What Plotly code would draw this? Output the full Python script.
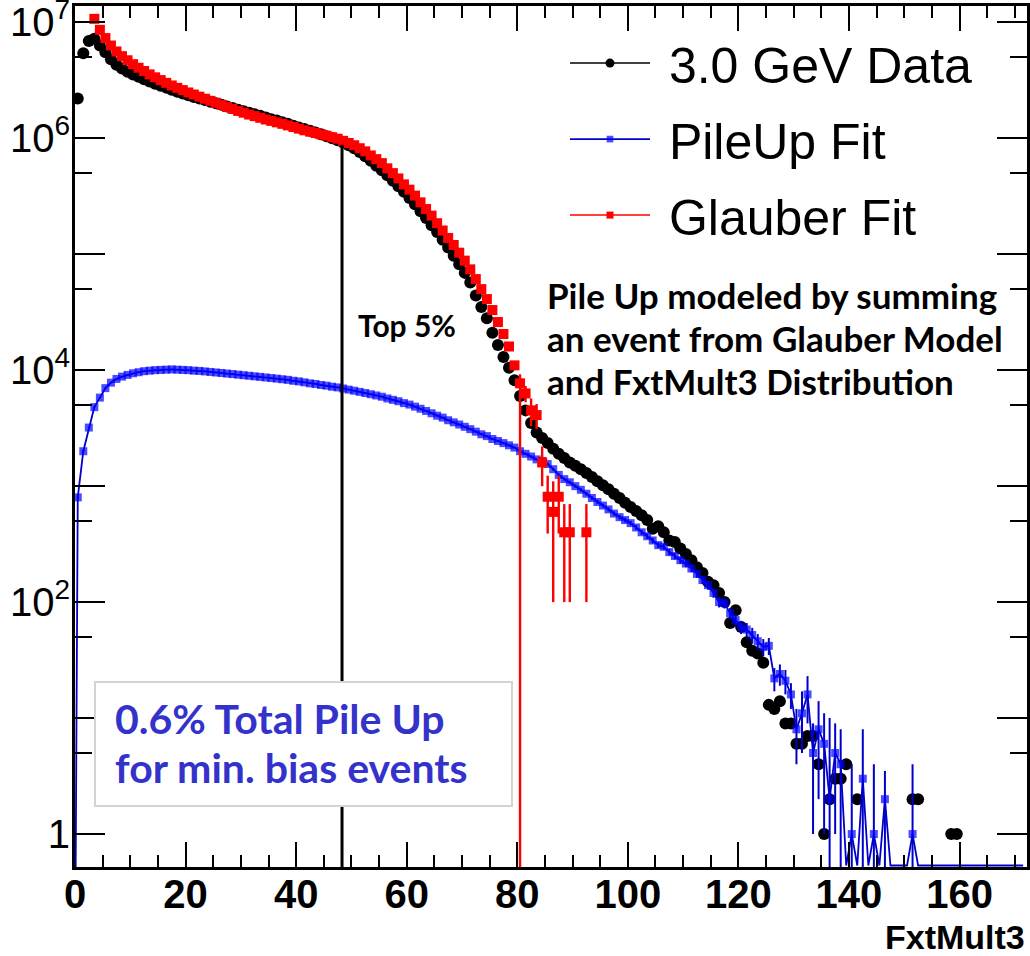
import numpy as np
import plotly.graph_objects as go

# ---------------- data ----------------
# bin index i -> FxtMult3 bin centre i+0.5
data_counts = [
    2.2e6, 5.4e6, 6.9e6, 7.2e6, 6.3e6, 5.5e6, 4.8e6, 4.3e6, 4.0e6, 3.75e6,
    3.55e6, 3.38e6, 3.22e6, 3.08e6, 2.95e6, 2.84e6, 2.73e6, 2.62e6, 2.52e6, 2.43e6,
    2.35e6, 2.27e6, 2.2e6, 2.13e6, 2.06e6, 2.0e6, 1.94e6, 1.88e6, 1.82e6, 1.76e6,
    1.71e6, 1.66e6, 1.61e6, 1.56e6, 1.51e6, 1.46e6, 1.42e6, 1.37e6, 1.33e6, 1.28e6,
    1.24e6, 1.2e6, 1.16e6, 1.12e6, 1.08e6, 1.04e6, 1.0e6, 9.6e5, 9.2e5, 8.7e5,
    8.2e5, 7.6e5, 7.0e5, 6.4e5, 5.8e5, 5.3e5, 4.8e5, 4.3e5, 3.85e5, 3.45e5,
    3.05e5, 2.7e5, 2.35e5, 2.05e5, 1.78e5, 1.55e5, 1.33e5, 1.14e5, 9.7e4, 8.2e4,
    6.9e4, 5.7e4, 4.4e4, 3.5e4, 2.8e4, 2.1e4, 1.65e4, 1.3e4, 1.05e4, 8.2e3,
    6.0e3, 4.5e3, 3.5e3, 2.9e3, 2.6e3, 2.35e3, 2.1e3, 1.9e3, 1.75e3, 1.6e3,
    1.5e3, 1.4e3, 1.3e3, 1.2e3, 1.1e3, 1.02e3, 940, 860, 790, 720,
    660, 610, 560, 510, 430, 450, 400, 340, 330, 290,
    260, 230, 200, 178, 150, 140, 120, 100, 66, 85,
    61, 45, 38, 36, 30, 13, 12, 14, 9, 9,
    6, 6, 7, 7, 4, 1, 2, 3, 3, 4,
    0, 2, 0, 0, 0, 0, 0, 0, 0, 0,
    0, 2, 2, 0, 0, 0, 0, 0, 1, 1,
]

pileup_fit = [
    800, 2000, 3200, 4800, 5800, 7000, 7800, 8400, 8800, 9100,
    9400, 9600, 9800, 9900, 10000, 10050, 10100, 10150, 10100, 10050,
    10000, 9900, 9850, 9750, 9650, 9550, 9450, 9350, 9250, 9150,
    9050, 8950, 8850, 8750, 8650, 8550, 8450, 8350, 8250, 8100,
    8000, 7850, 7700, 7600, 7450, 7350, 7200, 7100, 6950, 6800,
    6650, 6500, 6350, 6200, 6050, 5900, 5700, 5550, 5400, 5200,
    5050, 4850, 4650, 4450, 4250, 4050, 3900, 3700, 3550, 3400,
    3250, 3100, 2950, 2800, 2700, 2550, 2450, 2350, 2250, 2150,
    2000, 1900, 1800, 1700, 1650, 1550, 1400, 1250, 1150, 1080,
    1000, 930, 860, 790, 730, 680, 630, 580, 540, 510,
    480, 440, 400, 370, 340, 310, 300, 270, 250, 230,
    215, 195, 175, 155, 140, 120, 100, 98, 80, 70,
    61, 58, 52, 46, 41, 42, 22, 24, 21, 16,
    8, 11, 16, 5, 8, 6, 2, 5, 4, 0,
    1, 0, 3, 0, 1, 0, 2, 0, 0, 0,
    0, 1, 0, 0, 0, 0, 0, 0, 0, 0,
    0, 0, 0, 0, 0, 0, 0, 0, 0, 0,
    0, 0,
]

pileup_err = [
    30, 45, 55, 70, 75, 85, 90, 90, 95, 95,
    95, 100, 100, 100, 100, 100, 100, 100, 100, 100,
    100, 100, 100, 100, 100, 100, 95, 95, 95, 95,
    95, 95, 95, 95, 95, 95, 90, 90, 90, 90,
    90, 90, 90, 85, 85, 85, 85, 85, 85, 80,
    80, 80, 80, 80, 80, 75, 75, 75, 75, 70,
    70, 70, 70, 65, 65, 65, 60, 60, 60, 60,
    55, 55, 55, 55, 50, 50, 50, 50, 45, 45,
    45, 45, 40, 40, 40, 40, 38, 36, 34, 33,
    32, 31, 30, 29, 28, 27, 26, 25, 24, 23,
    22, 21, 20, 20, 19, 18, 18, 17, 16, 16,
    15, 14, 13, 12, 12, 11, 10, 10, 9, 9,
    8, 8, 8, 7, 7, 7, 5, 5, 5, 4,
    4, 6, 7, 4, 6, 5, 8, 4, 4, 0,
    3, 0, 5, 0, 3, 0, 1.5, 0, 0, 0,
    0, 3, 0, 0, 0, 0, 0, 0, 0, 0,
    0, 0, 0, 0, 0, 0, 0, 0, 0, 0,
    0, 0,
]

# Glauber fit, bins 0..92 (None = not drawn, 0 = empty bin)
glauber_fit = [
    None, None, None, 1.07e7, 8.6e6, 7.3e6, 6.3e6, 5.6e6, 5.1e6, 4.7e6,
    4.35e6, 4.05e6, 3.8e6, 3.55e6, 3.35e6, 3.17e6, 3.0e6, 2.85e6, 2.72e6, 2.6e6,
    2.48e6, 2.38e6, 2.28e6, 2.19e6, 2.1e6, 2.02e6, 1.94e6, 1.86e6, 1.79e6, 1.72e6,
    1.66e6, 1.6e6, 1.55e6, 1.5e6, 1.45e6, 1.41e6, 1.37e6, 1.33e6, 1.29e6, 1.25e6,
    1.21e6, 1.17e6, 1.14e6, 1.11e6, 1.08e6, 1.05e6, 1.02e6, 9.9e5, 9.5e5, 9.1e5,
    8.7e5, 8.2e5, 7.7e5, 7.1e5, 6.6e5, 6.1e5, 5.5e5, 5.0e5, 4.5e5, 4.0e5,
    3.6e5, 3.2e5, 2.8e5, 2.45e5, 2.15e5, 1.85e5, 1.6e5, 1.38e5, 1.2e5, 1.03e5,
    8.8e4, 7.4e4, 6.1e4, 5.0e4, 4.1e4, 3.3e4, 2.6e4, 2.05e4, 1.6e4, 1.1e4,
    7.7e3, 6.3e3, 4.5e3, 4.1e3, 1.6e3, 810, 600, 810, 400, 400,
    0, 0, 400,
]
glauber_err_up = [0] * 80 + [1500, 1000, 1200, 1000, 600, 420, 500, 420, 300, 300, 0, 0, 300]
glauber_err_down = [0] * 80 + [7.7e3, 1000, 1200, 1000, 600, 420, 500, 420, 300, 300, 0, 0, 300]

legend_names = ["3.0 GeV Data", "PileUp Fit", "Glauber Fit"]
x_ticks = [0, 20, 40, 60, 80, 100, 120, 140, 160]
y_tick_vals = [1, 10, 100, 1e3, 1e4, 1e5, 1e6, 1e7]
y_tick_text = ["1", "", "10<sup>2</sup>", "", "10<sup>4</sup>", "", "10<sup>6</sup>", "10<sup>7</sup>"]
y_minor_vals = [0.5, 5, 50, 500, 5e3, 5e4, 5e5, 5e6]

top5_cut_x = 48.3          # "Top 5%" cut position
top5_cut_height = 8.8e5    # where the cut line meets the data

X_RANGE = [0, 172.2]
Y_RANGE_LOG = [-0.284, 7.14]
FLOOR = 10 ** Y_RANGE_LOG[0] * 1.03   # ROOT draws empty bins at the frame bottom


def centres(n):
    return [i + 0.5 for i in range(n)]


fig = go.Figure()

# black data (markers only)
xd = centres(len(data_counts))
yd = [v if v > 0 else None for v in data_counts]
fig.add_trace(go.Scatter(
    x=xd, y=yd, mode="markers", showlegend=False, hoverinfo="skip",
    marker=dict(symbol="circle", size=12, color="black"),
))

# blue pile-up fit (line + markers + error bars)
xb = centres(len(pileup_fit))
yb = [v if v > 0 else FLOOR for v in pileup_fit]
sb = [8 if v > 0 else 0 for v in pileup_fit]
fig.add_trace(go.Scatter(
    x=[-0.2] + xb, y=[1e-3] + yb, mode="lines+markers", name="\u00a0" + legend_names[1],
    legendgroup="b", legendrank=2,
    line=dict(color="#0000cc", width=1.8),
    marker=dict(symbol="square", size=[0] + sb, color="#0000ff", line=dict(width=0)),
    error_y=dict(type="data", array=[0] + pileup_err, color="#0000cc", width=0, thickness=2),
))

# red Glauber fit (markers + error bars)
xr = centres(len(glauber_fit))
yr = [v if (v is not None and v > 0) else None for v in glauber_fit]
fig.add_trace(go.Scatter(
    x=xr, y=yr, mode="markers", showlegend=False, hoverinfo="skip",
    marker=dict(symbol="square", size=10, color="#ff0000", line=dict(width=0)),
    error_y=dict(type="data", symmetric=False, array=glauber_err_up,
                 arrayminus=glauber_err_down, color="#ff0000", width=0, thickness=2.4),
))

# legend entries (ROOT "LP" style)
fig.add_trace(go.Scatter(x=[None], y=[None], mode="lines+markers", name="\u00a0" + legend_names[0],
                         legendgroup="a", legendrank=1,
                         line=dict(color="black", width=1.5),
                         marker=dict(symbol="circle", size=9, color="black")))
fig.add_trace(go.Scatter(x=[None], y=[None], mode="lines+markers", name="\u00a0" + legend_names[2],
                         legendgroup="c", legendrank=3,
                         line=dict(color="#ff0000", width=1.5),
                         marker=dict(symbol="square", size=7, color="#ff0000")))

# "Top 5%" cut line
fig.add_trace(go.Scatter(x=[top5_cut_x, top5_cut_x], y=[1e-3, top5_cut_height],
                         mode="lines", showlegend=False, hoverinfo="skip",
                         line=dict(color="black", width=3)))

axis_common = dict(showline=True, linecolor="black", linewidth=3, mirror="ticks",
                   ticks="inside", tickcolor="black", showgrid=False, zeroline=False,
                   automargin=False)

fig.update_xaxes(range=X_RANGE, tickvals=x_ticks, ticklen=25, tickwidth=2,
                 minor=dict(dtick=5, tick0=0, ticklen=12, tickwidth=2, ticks="inside", tickcolor="black"),
                 tickfont=dict(family="Liberation Sans", size=40, color="black", weight="bold"),
                 ticklabelstandoff=-10, ticklabeloverflow="allow", **axis_common)
fig.update_yaxes(type="log", range=Y_RANGE_LOG, tickvals=y_tick_vals, ticktext=y_tick_text,
                 ticklen=30, tickwidth=2,
                 minor=dict(tickvals=y_minor_vals, ticklen=17, tickwidth=2, ticks="inside", tickcolor="black"),
                 tickfont=dict(family="Liberation Sans", size=40, color="black"),
                 ticklabelstandoff=-6, ticklabeloverflow="allow", **axis_common)

fig.update_layout(
    width=1030, height=956,
    margin=dict(l=75, r=3, t=6, b=89),
    paper_bgcolor="white", plot_bgcolor="white",
    legend=dict(x=0.5147, y=0.979, xanchor="left", yanchor="top",
                font=dict(family="Liberation Sans", size=50, color="black"),
                bgcolor="rgba(0,0,0,0)", itemwidth=80, tracegroupgap=8,
                traceorder="grouped"),
    shapes=[dict(type="rect", xref="paper", yref="paper", x0=0.021, x1=0.459,
                 y0=0.0708, y1=0.2149, line=dict(color="#d4d4d4", width=2),
                 fillcolor="white", layer="above")],
    annotations=[
        dict(text="<b>Top 5%</b>", xref="paper", yref="paper", x=0.3487, y=0.6295,
             xanchor="center", yanchor="middle", showarrow=False,
             font=dict(family="Lato", size=30, color="black")),
        dict(text="<b>Pile Up modeled by summing</b>",
             xref="paper", yref="paper", x=0.4937, y=0.6643, xanchor="left", yanchor="middle",
             showarrow=False, font=dict(family="Lato", size=35, color="black")),
        dict(text="<b>an event from Glauber Model</b>",
             xref="paper", yref="paper", x=0.4937, y=0.6144, xanchor="left", yanchor="middle",
             showarrow=False, font=dict(family="Lato", size=35, color="black")),
        dict(text="<b>and FxtMult3 Distribution</b>",
             xref="paper", yref="paper", x=0.4937, y=0.5645, xanchor="left", yanchor="middle",
             showarrow=False, font=dict(family="Lato", size=35, color="black")),
        dict(text="<b>0.6% Total Pile Up</b>",
             xref="paper", yref="paper", x=0.0399, y=0.1730, xanchor="left", yanchor="middle",
             showarrow=False, font=dict(family="Lato", size=41, color="#3333cc")),
        dict(text="<b>for min. bias events</b>",
             xref="paper", yref="paper", x=0.0399, y=0.1150, xanchor="left", yanchor="middle",
             showarrow=False, font=dict(family="Lato", size=41, color="#3333cc")),
        dict(text="<b>FxtMult3</b>", xref="paper", yref="paper", x=1.0, y=-0.0813,
             xanchor="right", yanchor="middle", showarrow=False,
             font=dict(family="Liberation Sans", size=34, color="black")),
    ],
)

fig.write_html("out.html", post_script="document.body.style.margin='0';",
               config={"displayModeBar": False})
